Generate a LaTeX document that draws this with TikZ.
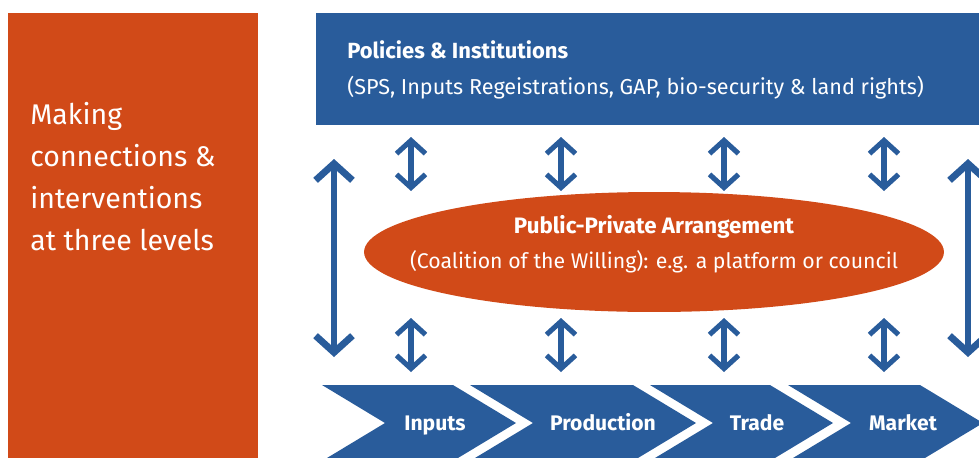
\documentclass[tikz,border=0pt]{standalone}
\usepackage{fontspec}
\setmainfont{Fira Sans}
\usetikzlibrary{arrows.meta,shapes.geometric}
\definecolor{levelorange}{RGB}{209,74,24}
\definecolor{levelblue}{RGB}{41,92,155}

\begin{document}
\begin{tikzpicture}[x=0.02cm,y=-0.02cm,
		twoway/.style={levelblue,line width=2.9pt,{Straight Barb[length=7.5pt,width=16.5pt]}-{Straight Barb[length=7.5pt,width=16.5pt]}},
		bigway/.style={levelblue,line width=3.9pt,{Straight Barb[length=9.5pt,width=21pt]}-{Straight Barb[length=9.5pt,width=21pt]}},
		chain/.style={anchor=base,text=white,font=\fontsize{12}{14}\selectfont\bfseries}]
		\clip (0,0) rectangle (979,457);

		% left panel
		\node[fill=levelorange,anchor=north west,minimum width=5cm,minimum height=9cm,inner sep=0] (levels) at (8,13) {};
		\node[anchor=north west,inner sep=0,align=left,text=white,font=\fontsize{16.2}{23.8}\selectfont] (levelstext) at (30,102) {Making\\connections \&\\interventions\\at three levels};

		% policy level
		\node[fill=levelblue,anchor=north west,minimum width=13.5cm,minimum height=2.24cm,inner sep=0] (policies) at (316,13) {};
		\node[anchor=west,inner sep=0,text=white,font=\fontsize{12.5}{14}\selectfont\bfseries] (policytitle) at (347,50) {Policies \& Institutions};
		\node[anchor=west,inner sep=0,text=white,font=\fontsize{12.3}{14}\selectfont] (policysub) at (347,88) {(SPS, Inputs Regeistrations, GAP, bio-security \& land rights)};

		% arrangement
		\node[ellipse,fill=levelorange,minimum width=11.6cm,minimum height=2.4cm,inner sep=0] (ppa) at (654,252) {};
		\node[text=white,font=\fontsize{12.7}{14}\selectfont\bfseries] (ppatitle) at (654,227) {Public-Private Arrangement};
		\node[text=white,font=\fontsize{12.1}{14}\selectfont] (ppasub) at (654,262) {(Coalition of the Willing): e.g. a platform or council};

		% value chain
		\fill[levelblue] (322,385) -- (453,385) -- (516,423) -- (453,461) -- (322,461) -- (385,423) -- cycle;
		\fill[levelblue] (470,385) -- (633,385) -- (696,423) -- (633,461) -- (470,461) -- (533,423) -- cycle;
		\fill[levelblue] (650,385) -- (770,385) -- (833,423) -- (770,461) -- (650,461) -- (713,423) -- cycle;
		\fill[levelblue] (788,385) -- (920,385) -- (983,423) -- (920,461) -- (788,461) -- (851,423) -- cycle;
		\node[chain] (inputs) at (435,430) {Inputs};
		\node[chain] (production) at (603,430) {Production};
		\node[chain] (trade) at (757,430) {Trade};
		\node[chain] (market) at (903,430) {Market};

		% links between the levels
		\foreach \x [count=\i] in {411,561,724,884} {
			\coordinate (hi\i) at (\x,137);
			\coordinate (mid\i) at (\x,191);
			\coordinate (lo\i) at (\x,318);
			\coordinate (bot\i) at (\x,372);
			\draw[twoway] (hi\i) -- (mid\i);
			\draw[twoway] (lo\i) -- (bot\i);
		}
		\coordinate (ltop) at (334,159);
		\coordinate (lbot) at (334,357);
		\coordinate (rtop) at (968,159);
		\coordinate (rbot) at (968,357);
		\draw[bigway] (ltop) -- (lbot);
		\draw[bigway] (rtop) -- (rbot);
	\end{tikzpicture}
\end{document}
